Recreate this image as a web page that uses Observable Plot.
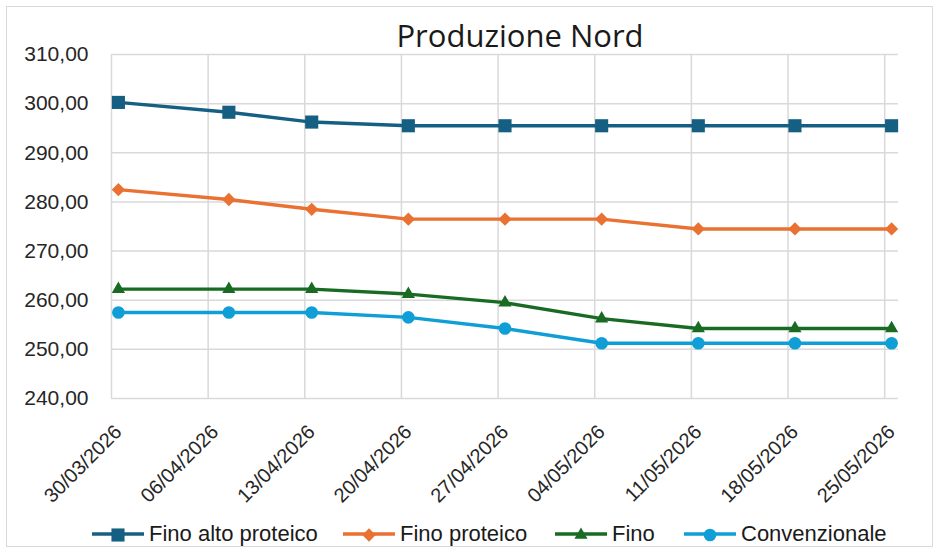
<!DOCTYPE html>
<html><head><meta charset="utf-8">
<script src="https://cdn.jsdelivr.net/npm/d3@7"></script>
<script src="https://cdn.jsdelivr.net/npm/@observablehq/plot@0.6"></script>
<style>
body{margin:0;background:#fff;}
#wrap{position:relative;width:939px;height:553px;overflow:hidden;background:#fff;}
#frame{position:absolute;left:6px;top:6px;width:927px;height:541px;border:1.5px solid #d9d9d9;box-sizing:border-box;}
#title{position:absolute;left:0;width:1040px;top:13px;text-align:center;font-family:"Open Sans",sans-serif;font-size:31px;color:#1a1a1a;line-height:44px;}
#chart{position:absolute;left:0;top:0;}
#legend{position:absolute;left:0;top:520px;width:939px;height:28px;font-family:"Liberation Sans",Arial,sans-serif;font-size:22px;color:#1a1a1a;}
.item{position:absolute;top:0;display:flex;align-items:center;height:28px;white-space:nowrap;}
.item svg{margin-right:5px;}
</style></head>
<body>
<div id="wrap">
  <div id="frame"></div>
  <div id="chart"></div>
  <div id="title">Produzione Nord</div>
  <div id="legend"></div>
</div>
<script>
// ---- data ----
const dates = ["30/03/2026","07/04/2026","13/04/2026","20/04/2026","27/04/2026","04/05/2026","11/05/2026","18/05/2026","25/05/2026"];
const tickLabels = ["30/03/2026","06/04/2026","13/04/2026","20/04/2026","27/04/2026","04/05/2026","11/05/2026","18/05/2026","25/05/2026"];
const domainLabels = ["30/03/2026","26/05/2026"];
const seriesNames = ["Fino alto proteico","Fino proteico","Fino","Convenzionale"];
const finoAltoProteico = [300.25, 298.25, 296.25, 295.5, 295.5, 295.5, 295.5, 295.5, 295.5];
const finoProteico = [282.5, 280.5, 278.5, 276.5, 276.5, 276.5, 274.5, 274.5, 274.5];
const fino = [262.25, 262.25, 262.25, 261.25, 259.5, 256.25, 254.25, 254.25, 254.25];
const convenzionale = [257.5, 257.5, 257.5, 256.5, 254.25, 251.25, 251.25, 251.25, 251.25];
const yTicks = [240, 250, 260, 270, 280, 290, 300, 310];
const colors = ["#156082", "#E97132", "#196B24", "#0F9ED5"];
const symbols = ["square", "diamond2", "triangle", "circle"];
const radii = [7.4, 6, 4.9, 6.3];
const legendLeft = [92, 343, 555, 684];

// ---- build ----
const parse = d3.utcParse("%d/%m/%Y");
const fmt = d3.utcFormat("%d/%m/%Y");
const HALF_DAY = 12 * 3600 * 1000;
const values = [finoAltoProteico, finoProteico, fino, convenzionale];
const rows = [];
values.forEach((vals, s) => vals.forEach((v, i) => rows.push({serie: seriesNames[s], date: new Date(+parse(dates[i]) + HALF_DAY), value: v, s})));
const gridDates = tickLabels.map(parse);
const tickDates = gridDates.map(d => new Date(+d + HALF_DAY));

const marks = [
  Plot.gridY(yTicks, {stroke: "#d9d9d9", strokeOpacity: 1, strokeWidth: 1.5}),
  Plot.gridX(gridDates, {stroke: "#d9d9d9", strokeOpacity: 1, strokeWidth: 1.5}),
  Plot.axisY(yTicks, {tickSize: 0, tickPadding: 23, fontSize: 21, fill: "#262626", label: null,
    tickFormat: d => d.toFixed(2).replace(".", ",")}),
  Plot.axisX(tickDates, {tickSize: 0, tickPadding: 30, tickRotate: -45, fontSize: 20, fill: "#262626", label: null,
    tickFormat: d => fmt(new Date(+d - HALF_DAY))})
];
seriesNames.forEach((name, s) => {
  const data = rows.filter(r => r.s === s);
  marks.push(Plot.line(data, {x: "date", y: "value", stroke: colors[s], strokeWidth: 3.4}));
});
seriesNames.forEach((name, s) => {
  const data = rows.filter(r => r.s === s);
  marks.push(Plot.dot(data, {x: "date", y: "value", fill: colors[s], stroke: "none", symbol: symbols[s], r: radii[s]}));
});

const chart = Plot.plot({
  width: 939, height: 553,
  marginLeft: 111, marginRight: 41, marginTop: 54, marginBottom: 155,
  style: {fontFamily: "'Liberation Sans', Arial, sans-serif", background: "transparent", overflow: "visible"},
  x: {type: "utc", domain: domainLabels.map(parse), axis: null, label: null},
  y: {domain: [240, 310], axis: null, label: null},
  marks
});
document.getElementById("chart").appendChild(chart);

// ---- legend ----
const legend = document.getElementById("legend");
const symMap = {square: d3.symbolSquare, diamond2: d3.symbolDiamond2, triangle: d3.symbolTriangle, circle: d3.symbolCircle};
seriesNames.forEach((name, s) => {
  const item = document.createElement("div");
  item.className = "item";
  item.style.left = legendLeft[s] + "px";
  const path = d3.symbol(symMap[symbols[s]], Math.PI * radii[s] * radii[s])();
  item.innerHTML = `<svg width="52" height="20" viewBox="0 0 52 20"><line x1="0" x2="52" y1="10" y2="10" stroke="${colors[s]}" stroke-width="3.4"/><path transform="translate(26,11)" d="${path}" fill="${colors[s]}"/></svg><span>${name}</span>`;
  legend.appendChild(item);
});
</script>
</body></html>
